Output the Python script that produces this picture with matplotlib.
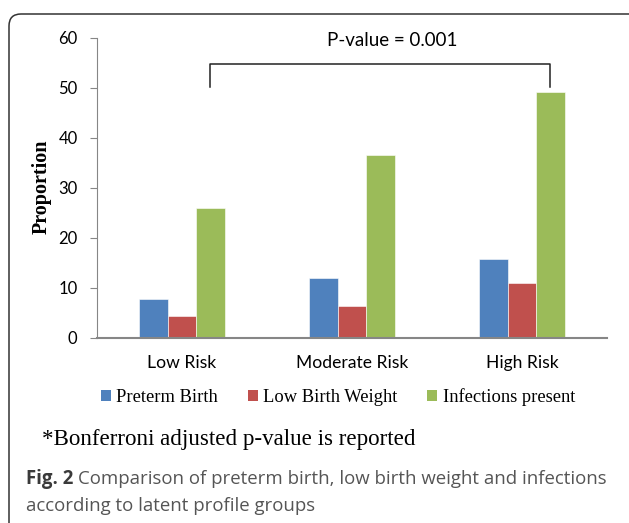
import numpy as np
import matplotlib.pyplot as plt
from matplotlib.patches import FancyBboxPatch, Patch
from matplotlib.transforms import IdentityTransform

# data
groups = ['Low Risk', 'Moderate Risk', 'High Risk']
preterm = [7.8, 12.1, 15.8]
low_weight = [4.5, 6.4, 11.0]
infections = [26.0, 36.6, 49.3]
series_names = ['Preterm Birth', 'Low Birth Weight', 'Infections present']
colors = ['#4F81BD', '#C0504D', '#9BBB59']

W, H = 629, 523
fig = plt.figure(figsize=(W / 100, H / 100), dpi=100)
ax = fig.add_axes([97 / W, (H - 338) / H, 510 / W, 300 / H])

x = np.arange(len(groups))
width = 0.167
for i, vals in enumerate([preterm, low_weight, infections]):
    ax.bar(x + (i - 1) * width, vals, width, color=colors[i],
           edgecolor='white', linewidth=0.4)

ax.set_xlim(-0.5, 2.5)
ax.set_ylim(0, 60)
ax.set_yticks(range(0, 61, 10))
ax.set_xticks(x)
ax.set_xticklabels(groups)

tick_font = 'Lato'
for lab in ax.get_xticklabels():
    lab.set_fontfamily(tick_font)
    lab.set_fontsize(12.6)
for lab in ax.get_yticklabels():
    lab.set_fontfamily(tick_font)
    lab.set_fontsize(12)

ax.tick_params(axis='x', length=0, pad=12)
ax.tick_params(axis='y', direction='out', length=5, color='#868686', pad=9)
for s in ['top', 'right']:
    ax.spines[s].set_visible(False)
ax.spines['left'].set_color('#868686')
ax.spines['bottom'].set_color('#868686')
ax.spines['bottom'].set_linewidth(1.5)

ax.set_ylabel('Proportion', family='Liberation Serif', fontweight='bold',
              fontsize=14.5, va='center')
ax.yaxis.set_label_coords(-0.108, 0.503)

# significance bracket
ax.plot([x[0] + width, x[0] + width, x[2] + width, x[2] + width],
        [50.2, 54.8, 54.8, 50.2], color='#222222', lw=1.1, clip_on=False)
ax.text(1.235, 59.6, 'P-value = 0.001', ha='center', va='center',
        family=tick_font, fontsize=13.5)

# legend
handles = [Patch(facecolor=c) for c in colors]
fig.legend(handles, series_names, ncol=3, loc='center',
           bbox_to_anchor=(338 / W, 1 - 397 / H), frameon=False,
           prop={'family': 'Liberation Serif', 'size': 13.3},
           handlelength=0.55, handleheight=0.55, handletextpad=0.3,
           columnspacing=1.6)

fig.text(42 / W, 1 - 440 / H, '*Bonferroni adjusted p-value is reported',
         family='Liberation Serif', fontsize=16.6, va='center', ha='left')

# caption
renderer = fig.canvas.get_renderer()
t1 = fig.text(26 / W, 1 - 479 / H, 'Fig. 2', family='Open Sans', fontweight='bold',
              fontsize=13.4, color='#3a3a3a', va='center', ha='left')
bb = t1.get_window_extent(renderer)
fig.text((bb.x1 + 5) / W, 1 - 479 / H,
         'Comparison of preterm birth, low birth weight and infections',
         family='Open Sans', fontsize=13.4, color='#555555', va='center', ha='left')
fig.text(26 / W, 1 - 506 / H, 'according to latent profile groups',
         family='Open Sans', fontsize=13.4, color='#555555', va='center', ha='left')

# rounded frame around the figure
frame = FancyBboxPatch((9, -30), 660, H - 14 + 30,
                       boxstyle='round,pad=0,rounding_size=12',
                       transform=IdentityTransform(), facecolor='none',
                       edgecolor='#333333', linewidth=1.1)
fig.add_artist(frame)

fig.savefig('out.png', dpi=100)
